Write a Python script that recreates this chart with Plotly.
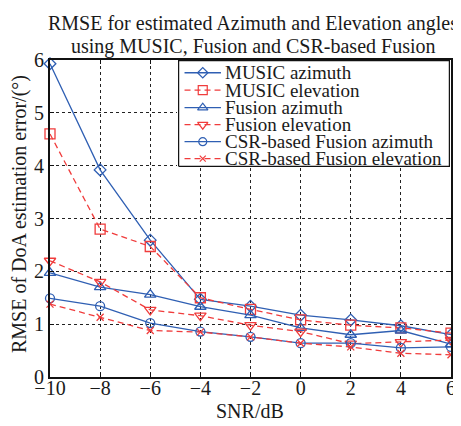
import plotly.graph_objects as go

# ---------------- data ----------------
snr = [-10, -8, -6, -4, -2, 0, 2, 4, 6]
music_az = [5.93, 3.92, 2.59, 1.47, 1.34, 1.17, 1.08, 0.97, 0.80]
music_el = [4.60, 2.80, 2.47, 1.50, 1.28, 1.08, 0.98, 0.93, 0.83]
fusion_az = [1.97, 1.70, 1.56, 1.33, 1.17, 0.93, 0.80, 0.88, 0.62]
fusion_el = [2.20, 1.80, 1.27, 1.16, 0.98, 0.86, 0.63, 0.66, 0.70]
csr_az = [1.49, 1.34, 1.02, 0.86, 0.76, 0.64, 0.64, 0.55, 0.57]
csr_el = [1.38, 1.13, 0.88, 0.85, 0.76, 0.64, 0.57, 0.45, 0.42]

series_names = ["MUSIC azimuth", "MUSIC elevation", "Fusion azimuth",
                "Fusion elevation", "CSR-based Fusion azimuth",
                "CSR-based Fusion elevation"]
series_values = [music_az, music_el, fusion_az, fusion_el, csr_az, csr_el]
x_ticks = [-10, -8, -6, -4, -2, 0, 2, 4, 6]
y_ticks = [0, 1, 2, 3, 4, 5, 6]

title_lines = ["RMSE for estimated Azimuth and Elevation angles",
               "using MUSIC, Fusion and CSR-based Fusion"]
x_title = "SNR/dB"
y_title = "RMSE of DoA estimation error/(°)"

# ---------------- styles ----------------
BLUE = "#2f5fb3"
RED = "#f03c3c"
FONT = "'Liberation Serif', 'Times New Roman', 'DejaVu Serif', serif"
styles = [
    dict(color=BLUE, dash="solid", symbol="diamond-open", size=9),
    dict(color=RED, dash="6px,4px", symbol="square-open", size=10),
    dict(color=BLUE, dash="solid", symbol="triangle-up-open", size=10),
    dict(color=RED, dash="6px,4px", symbol="triangle-down-open", size=10),
    dict(color=BLUE, dash="solid", symbol="circle-open", size=9),
    dict(color=RED, dash="6px,4px", symbol="x-thin-open", size=7),
]

# page offset (body margin of the html page)
OFF = 8
W, H = 461 - OFF, 426 - OFF
# plot area in reference pixels
PX0, PX1, PY0, PY1 = 50, 451, 60, 377
L, R, T, B = PX0 - OFF, W - (PX1 - OFF), PY0 - OFF, H - (PY1 - OFF)
pw, ph = W - L - R, H - T - B


def px_x(p):
    return (p - OFF - L) / pw


def px_y(p):
    return (H - B - (p - OFF)) / ph


fig = go.Figure()
for name, vals, st in zip(series_names, series_values, styles):
    fig.add_trace(go.Scatter(
        x=snr, y=vals, name=name, mode="lines+markers",
        line=dict(color=st["color"], width=1.3, dash=st["dash"]),
        marker=dict(symbol=st["symbol"], size=st["size"],
                    color=st["color"], line=dict(color=st["color"], width=1.3)),
        cliponaxis=False, showlegend=False, xaxis="x", yaxis="y",
    ))

# ---------------- custom legend (drawn on an auxiliary subplot) ----------------
leg_x0, leg_x1, leg_y0, leg_y1 = 177, 452, 58, 167  # reference pixel box
fig.add_trace(go.Scatter(
    x=[0, 1, 1, 0, 0], y=[0, 0, 1, 1, 0], mode="lines", fill="toself",
    fillcolor="white", line=dict(color="#111", width=1.2),
    showlegend=False, hoverinfo="skip", xaxis="x2", yaxis="y2"))

row_px = [70.5, 88.5, 106.5, 124, 141.5, 159]
lw = leg_x1 - leg_x0
lh = leg_y1 - leg_y0
for name, st, rp in zip(series_names, styles, row_px):
    ry = (leg_y1 - rp) / lh
    fig.add_trace(go.Scatter(
        x=[(183 - leg_x0) / lw, (220 - leg_x0) / lw], y=[ry, ry], mode="lines",
        line=dict(color=st["color"], width=1.3, dash=st["dash"]),
        showlegend=False, hoverinfo="skip", xaxis="x2", yaxis="y2"))
    fig.add_trace(go.Scatter(
        x=[(201.5 - leg_x0) / lw], y=[ry], mode="markers",
        marker=dict(symbol=st["symbol"], size=st["size"] - 1, color=st["color"],
                    line=dict(color=st["color"], width=1.2)),
        showlegend=False, hoverinfo="skip", xaxis="x2", yaxis="y2", cliponaxis=False))
    fig.add_annotation(x=(222 - leg_x0) / lw, y=ry, xref="x2", yref="y2",
                       text=name, showarrow=False, xanchor="left", yanchor="middle",
                       font=dict(family=FONT, size=19, color="#1a1a1a"))

pad = 0.006
fig.update_layout(
    xaxis2=dict(domain=[px_x(leg_x0), min(1.0, px_x(leg_x1))], range=[-pad, 1 + pad],
                visible=False, fixedrange=True, anchor="y2"),
    yaxis2=dict(domain=[px_y(leg_y1), min(1.0, px_y(leg_y0))], range=[-pad, 1 + pad],
                visible=False, fixedrange=True, anchor="x2"),
)

# ---------------- axes ----------------
axis_common = dict(
    showline=True, linecolor="#111", linewidth=1.8, mirror="ticks",
    ticks="inside", ticklen=4, tickcolor="#111", tickwidth=1,
    showgrid=True, gridcolor="#222", griddash="dot", gridwidth=1,
    zeroline=False, tickfont=dict(family=FONT, size=20, color="#1a1a1a"),
)
fig.update_layout(
    xaxis=dict(range=[-10, 6], tickvals=x_ticks, domain=[0, 1], anchor="y",
               ticklabelstandoff=-8, **axis_common),
    yaxis=dict(range=[0, 6], tickvals=y_ticks, domain=[0, 1], anchor="x",
               **axis_common),
)

# ---------------- titles ----------------
fig.add_annotation(x=px_x(253), y=px_y(23), xref="paper", yref="paper",
                   text=title_lines[0], showarrow=False, xanchor="center", yanchor="middle",
                   font=dict(family=FONT, size=20, color="#1a1a1a"))
fig.add_annotation(x=px_x(253), y=px_y(46), xref="paper", yref="paper",
                   text=title_lines[1], showarrow=False, xanchor="center", yanchor="middle",
                   font=dict(family=FONT, size=20, color="#1a1a1a"))
fig.add_annotation(x=px_x(250), y=px_y(411), xref="paper", yref="paper",
                   text=x_title, showarrow=False, xanchor="center", yanchor="middle",
                   font=dict(family=FONT, size=20, color="#1a1a1a"))
fig.add_annotation(x=px_x(19), y=px_y(214), xref="paper", yref="paper",
                   text=y_title, showarrow=False, xanchor="center", yanchor="middle",
                   textangle=-90, font=dict(family=FONT, size=20, color="#1a1a1a"))

fig.update_layout(
    width=W, height=H,
    margin=dict(l=L, r=R, t=T, b=B, autoexpand=False),
    paper_bgcolor="white", plot_bgcolor="white",
    showlegend=False,
    font=dict(family=FONT, color="#1a1a1a"),
)

fig.write_html("out.html")
